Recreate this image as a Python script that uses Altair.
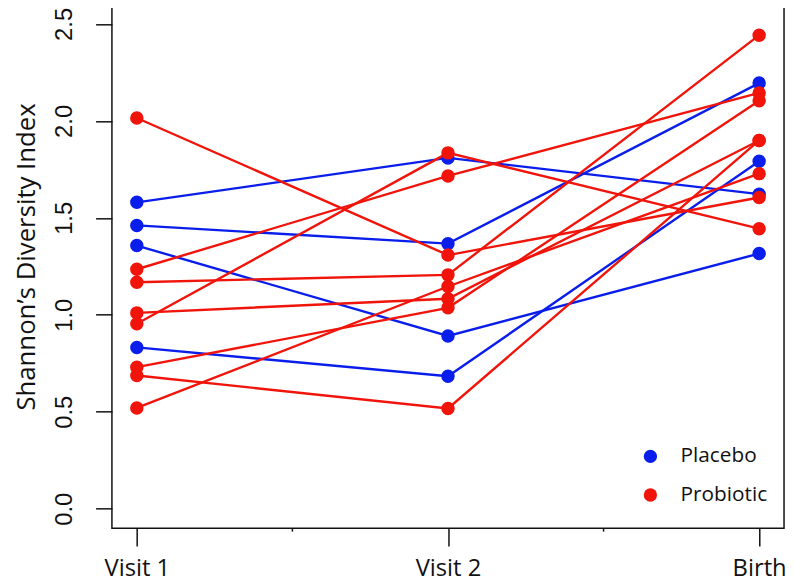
import altair as alt
import pandas as pd

# ---- data ----
visits = ["Visit 1", "Visit 2", "Birth"]
visit_pos = [1, 2, 3]
groups = ["Placebo", "Probiotic"]

placebo_v1 = [1.580, 1.461, 1.357, 0.832]
placebo_v2 = [1.809, 1.367, 0.891, 0.683]
placebo_birth = [1.622, 2.195, 1.316, 1.792]

probiotic_v1 = [2.015, 1.235, 1.168, 1.010, 0.954, 0.730, 0.687, 0.520]
probiotic_v2 = [1.308, 1.716, 1.206, 1.083, 1.835, 1.036, 0.517, 1.146]
probiotic_birth = [1.605, 2.144, 2.442, 1.899, 1.444, 2.104, 1.899, 1.728]

y_ticks = [0.0, 0.5, 1.0, 1.5, 2.0, 2.5]
minor_x_ticks = [1.5, 2.5]

BLUE = "#0A1EEB"
RED = "#F0140A"

rows = []
for g, arrs in [("Placebo", (placebo_v1, placebo_v2, placebo_birth)),
                ("Probiotic", (probiotic_v1, probiotic_v2, probiotic_birth))]:
    for i in range(len(arrs[0])):
        for k in range(3):
            rows.append({"group": g, "subject": f"{g}-{i}", "visit": visit_pos[k],
                         "value": arrs[k][i]})
df = pd.DataFrame(rows)

W, H = 679, 529

label_expr = "[" + ",".join(f"'{v}'" for v in visits) + "][datum.value - 1]"

x_enc = alt.X(
    "visit:Q",
    scale=alt.Scale(domain=[0.92, 3.08], nice=False, zero=False),
    axis=alt.Axis(values=visit_pos, labelExpr=label_expr, title=None, grid=False,
                  domain=False, tickSize=18, tickWidth=1.5, tickColor="#111",
                  labelFont="Open Sans", labelFontSize=24, labelColor="#111",
                  labelBaseline="alphabetic", labelPadding=30, labelFlush=False,
                  labelOverlap=False),
)
y_enc = alt.Y(
    "value:Q",
    scale=alt.Scale(domain=[-0.1, 2.6], nice=False, zero=False),
    axis=alt.Axis(values=y_ticks, format=".1f", grid=False, domain=False,
                  tickSize=16.5, tickWidth=1.5, tickColor="#111",
                  labelAngle=270, labelAlign="center", labelBaseline="alphabetic",
                  labelPadding=24.5, labelFont="Liberation Sans", labelFontSize=24,
                  labelColor="#111", labelOverlap=False, labelFlush=False,
                  title="Shannon’s Diversity Index", titleFont="Open Sans",
                  titleFontSize=26, titleFontWeight="normal", titleColor="#111",
                  titleAngle=270, titleAlign="center", titleBaseline="alphabetic",
                  titleX=-78, titleY=254.5),
)
color_enc = alt.Color(
    "group:N",
    scale=alt.Scale(domain=groups, range=[BLUE, RED]),
    legend=alt.Legend(title=None, orient="none", legendX=533.5, legendY=446,
                      symbolType="circle", symbolSize=180, symbolStrokeWidth=0,
                      symbolOpacity=1, labelFont="Open Sans", labelFontSize=21,
                      labelColor="#111", labelOffset=20, rowPadding=17, padding=0),
)

base = alt.Chart(df)
layers = []
for g in groups:
    sub = base.transform_filter(alt.datum.group == g)
    layers.append(sub.mark_line(strokeWidth=2.4).encode(
        x=x_enc, y=y_enc, color=color_enc, detail="subject:N", order="visit:Q"))
    layers.append(sub.mark_circle(size=185, opacity=1).encode(
        x=x_enc, y=y_enc, color=color_enc))

minor = alt.Chart(pd.DataFrame({"m": minor_x_ticks})).mark_rule(
    color="#111", strokeWidth=1.5, clip=False).encode(
    x=alt.X("m:Q"), y=alt.value(H), y2=alt.value(H + 3.5))

chart = alt.layer(*layers, minor).properties(
    width=W, height=H,
    autosize=alt.AutoSizeParams(type="none"),
    padding={"left": 105, "top": -6.5, "right": 3, "bottom": 60},
).configure_view(stroke="#111", strokeWidth=1.5)

chart.save("out.html", embed_options={"renderer": "svg", "actions": False})
